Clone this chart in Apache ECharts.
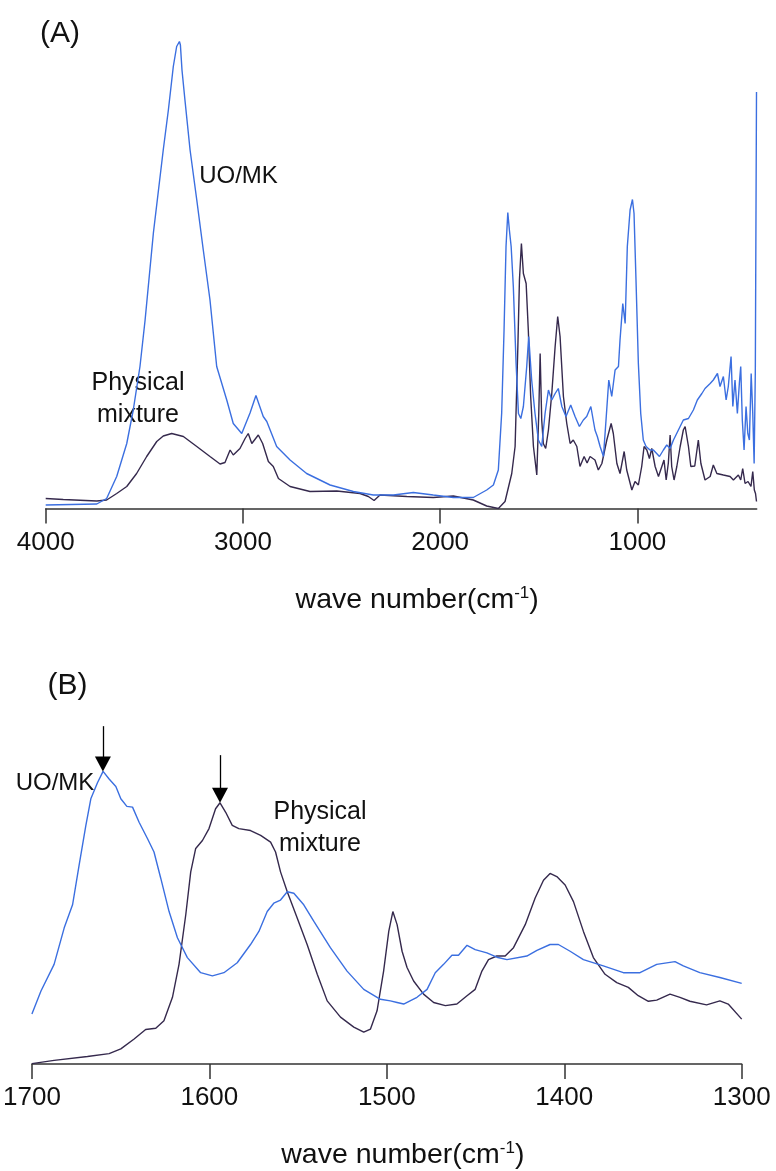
<!DOCTYPE html>
<html>
<head>
<meta charset="utf-8">
<script src="https://cdn.jsdelivr.net/npm/echarts@6/dist/echarts.min.js"></script>
<style>
  html, body { margin: 0; padding: 0; background: #fff; }
  #chart { width: 776px; height: 1171px; }
</style>
</head>
<body>
<div id="chart"></div>
<script>
// FT-IR spectra: UO/MK vs. physical mixture. Pairs are [wave number (cm-1), absorbance (a.u.)].

// (A) full range 4000–400 cm-1
const uoMkFull = [
  [4000,0.7],[3741,0.9],[3691,2.0],[3640,6.4],[3589,13.0],[3556,19.7],[3522,28.4],[3496,37.7],
  [3454,55.1],[3404,71.7],[3378,79.7],[3353,88.4],[3336,92.4],[3322,93.4],[3317,92.7],[3309,87.7],
  [3294,81.7],[3268,71.7],[3234,61.7],[3201,51.7],[3167,41.7],[3133,28.4],[3082,21.7],[3049,17.0],
  [3006,15.0],[2964,19.1],[2934,22.6],[2897,18.4],[2879,17.4],[2829,12.4],[2761,9.7],[2677,7.0],
  [2558,4.7],[2440,3.4],[2339,2.7],[2237,2.7],[2136,3.2],[2035,2.7],[1933,2.2],[1832,2.2],
  [1764,3.7],[1730,4.7],[1705,7.7],[1688,19.1],[1676,35.7],[1666,52.4],[1657,59.2],[1649,55.7],
  [1640,52.4],[1629,44.4],[1615,29.0],[1603,19.0],[1591,18.0],[1578,20.4],[1561,28.4],[1551,34.4],
  [1536,25.7],[1519,19.0],[1502,13.7],[1485,12.4],[1468,19.0],[1451,23.7],[1434,21.7],[1417,23.0],
  [1401,24.0],[1383,20.4],[1362,18.4],[1338,20.7],[1316,18.4],[1294,16.4],[1274,17.7],[1257,18.4],
  [1236,20.4],[1215,15.7],[1203,14.4],[1189,12.4],[1172,10.4],[1159,17.7],[1145,25.7],[1130,22.4],
  [1113,27.7],[1096,28.4],[1088,33.7],[1074,41.0],[1062,37.0],[1051,52.4],[1037,59.7],[1025,61.8],
  [1017,59.0],[1007,45.7],[995,29.0],[983,19.0],[970,13.7],[956,12.4],[936,11.7],[919,11.7],
  [888,10.4],[868,11.7],[851,12.7],[834,12.0],[817,13.7],[792,15.7],[767,17.7],[741,18.0],
  [716,19.7],[696,21.7],[673,23.0],[657,24.0],[631,25.0],[615,25.7],[594,27.0],[581,24.4],
  [564,26.4],[550,21.7],[539,24.4],[525,30.4],[516,20.4],[505,25.7],[493,19.0],[483,25.0],
  [476,28.4],[468,17.7],[459,11.7],[449,20.4],[440,15.0],[432,13.7],[423,27.0],[415,19.0],
  [408,9.0],[402,27.4],[396,83.3]
];
const mixtureFull = [
  [4000,2.0],[3911,1.8],[3741,1.5],[3691,1.7],[3640,3.0],[3589,4.4],[3539,7.0],[3488,10.4],
  [3437,13.4],[3404,14.5],[3361,15.0],[3302,14.4],[3234,12.4],[3167,10.4],[3116,8.9],[3091,9.2],
  [3065,11.7],[3049,10.7],[3015,12.0],[2989,14.0],[2973,15.0],[2955,13.0],[2922,14.7],[2900,13.0],
  [2871,9.4],[2846,8.4],[2820,6.0],[2761,4.4],[2660,3.4],[2524,3.5],[2406,3.0],[2364,2.4],
  [2335,1.6],[2305,2.7],[2169,2.4],[2035,2.2],[1933,2.5],[1832,1.7],[1764,0.5],[1705,0.0],
  [1671,1.4],[1637,7.0],[1620,12.4],[1606,32.4],[1598,45.7],[1588,53.0],[1578,47.0],[1564,45.0],
  [1553,35.7],[1541,22.4],[1527,12.4],[1510,6.7],[1500,19.0],[1493,31.0],[1485,17.7],[1477,13.0],
  [1465,12.0],[1451,15.7],[1434,23.0],[1417,32.4],[1404,38.4],[1392,34.4],[1375,22.4],[1358,17.0],
  [1341,13.0],[1325,13.7],[1307,12.4],[1291,8.4],[1270,10.4],[1255,9.1],[1240,10.4],[1215,9.7],
  [1198,7.7],[1180,9.0],[1155,13.7],[1133,17.0],[1122,15.0],[1104,9.0],[1088,7.0],[1067,11.4],
  [1054,7.7],[1041,5.7],[1028,3.7],[1012,5.4],[995,4.7],[978,8.4],[966,12.4],[952,11.7],
  [939,10.0],[927,12.0],[910,8.4],[893,6.4],[876,8.4],[865,9.7],[854,5.7],[843,9.1],
  [834,14.7],[826,8.4],[814,5.7],[800,8.4],[783,12.4],[767,15.7],[758,16.4],[741,12.4],
  [729,8.4],[709,8.5],[691,13.7],[678,9.0],[657,5.7],[631,6.4],[615,8.7],[597,7.0],
  [564,6.7],[530,6.4],[513,5.7],[488,6.7],[476,5.7],[466,8.0],[454,5.0],[439,5.4],
  [424,4.4],[415,7.4],[407,3.7],[401,3.0],[396,1.4]
];

// (B) carbonyl / aromatic region 1700–1300 cm-1
const uoMkDetail = [
  [1700,12.6],[1694.9,18.4],[1687.5,25.1],[1681.8,34.3],[1677.1,40.1],[1673.4,50.1],[1669.6,60.1],
  [1666.8,66.8],[1663,70.9],[1659.9,73.7],[1656.5,71.8],[1652.7,69.9],[1649.9,66.8],[1646.5,64.9],
  [1643.3,64.7],[1639.6,60.9],[1634.9,56.8],[1631.2,53.4],[1627.4,46.8],[1622.7,38.4],[1618,31.8],
  [1612.4,26.8],[1604.9,23.0],[1598.3,22.2],[1591.8,23.0],[1584.3,25.5],[1576.8,30.1],[1572.1,33.4],
  [1567.4,38.4],[1563.7,40.5],[1559.9,41.3],[1556.1,43.4],[1552.4,43.0],[1546.8,40.1],[1541.1,35.9],
  [1531.8,29.3],[1522.4,23.4],[1513,18.8],[1503.6,16.3],[1498,15.9],[1494.2,15.5],[1490.5,15.1],
  [1483,16.8],[1477.3,18.8],[1472.7,23.0],[1468,25.1],[1463.3,27.4],[1459.6,27.4],[1454.8,29.9],
  [1450.2,28.8],[1443.6,28.0],[1438,26.9],[1432.3,26.3],[1421.1,27.2],[1415.4,28.6],[1408,30.1],
  [1403.3,30.1],[1396.7,28.4],[1389.2,26.3],[1378,24.7],[1366.7,23.0],[1357.3,23.0],[1347.9,25.1],
  [1337.6,25.8],[1332.9,24.7],[1323.6,23.0],[1312.3,21.8],[1300,20.3]
];
const mixtureDetail = [
  [1700,0.1],[1687.5,0.9],[1668.7,1.9],[1656.5,2.6],[1649.9,3.8],[1642.4,6.3],[1635.9,8.7],
  [1630.2,9.0],[1625.6,10.9],[1620.8,16.8],[1617.1,25.1],[1613.3,37.6],[1610.5,48.4],[1607.7,54.3],
  [1603.9,56.3],[1600.2,59.3],[1596.5,64.3],[1594,65.8],[1590.8,63.4],[1587.1,60.1],[1583.4,59.3],
  [1576.8,58.8],[1571.1,57.6],[1565.5,55.9],[1562.7,53.4],[1559.9,48.4],[1556.1,43.4],[1550.5,36.8],
  [1544.9,30.1],[1539.2,22.6],[1533.6,15.9],[1526.1,11.8],[1518.6,9.3],[1513,8.0],[1509.2,8.8],
  [1505.5,13.4],[1501.8,23.4],[1498.9,33.4],[1496.6,38.4],[1494.2,35.1],[1491.4,28.4],[1488.6,24.3],
  [1484.9,20.9],[1479.3,17.6],[1473.6,15.5],[1467,14.7],[1460.5,15.1],[1454.8,17.2],[1450.2,18.8],
  [1446.4,23.4],[1442.7,26.3],[1438,27.2],[1433.3,27.2],[1428.6,29.3],[1422,35.1],[1416.4,41.8],
  [1411.7,46.3],[1408,48.0],[1404.2,47.2],[1399.5,45.1],[1394.8,40.9],[1389.2,33.4],[1383.6,26.8],
  [1377,22.6],[1370.4,20.5],[1363.9,19.3],[1358.3,17.2],[1352.6,15.8],[1347.9,16.1],[1340.4,17.6],
  [1334.8,16.8],[1329.2,15.8],[1319.8,14.9],[1312.3,15.9],[1307.6,15.1],[1300,11.3]
];

// Peak markers in (B): [wave number, arrow tail, arrow tip]
const peakArrowUoMk = [1660, 85.1, 73.7];
const peakArrowMixture = [1594, 77.8, 65.8];

// Tick positions
const ticksFull = [4000, 3000, 2000, 1000];
const ticksDetail = [1700, 1600, 1500, 1400, 1300];

const FONT = '"Liberation Sans", Arial, Helvetica, sans-serif';
const BLUE = '#3b6fe0';
const DARK = '#35294d';
const INK = '#111111';

// Panel (B) draws 4 px per absorbance unit; the arrowhead is 15 px tall
// and centred on the line end, so lift the end by half its height.
const HEAD = 15;
const HEAD_LIFT = (HEAD / 2) / 4;

function xAxisBase(gridIndex) {
  return {
    gridIndex: gridIndex,
    type: 'value',
    inverse: true,
    splitLine: { show: false },
    axisLine: { show: true, onZero: false, lineStyle: { color: '#333', width: 1.5 } },
    axisTick: { show: true, inside: false, length: 15, lineStyle: { color: '#333', width: 1.5 } },
    axisLabel: { show: true, color: INK, fontSize: 26, fontFamily: FONT, margin: 21,
                 showMinLabel: true, showMaxLabel: true, hideOverlap: false,
                 formatter: function (v) { return String(v); } },
    name: '{t|wave number(cm}{s|-1}{t|)}',
    nameLocation: 'middle',
    nameGap: 76,
    nameTextStyle: {
      padding: [0, 0, 0, 32],
      rich: {
        t: { fontSize: 28.5, fontFamily: FONT, color: INK, lineHeight: 31 },
        s: { fontSize: 17, fontFamily: FONT, color: INK, verticalAlign: 'top', lineHeight: 17 }
      }
    }
  };
}

const axisFull = xAxisBase(0);
axisFull.min = 395;
axisFull.max = 4000;
axisFull.axisTick.customValues = ticksFull;
axisFull.axisLabel.customValues = ticksFull;

const axisDetail = xAxisBase(1);
axisDetail.min = 1300;
axisDetail.max = 1700;
axisDetail.interval = 100;
axisDetail.axisTick.customValues = ticksDetail;
axisDetail.axisLabel.customValues = ticksDetail;

function spectrum(name, data, color, axisIdx) {
  return {
    name: name,
    type: 'line',
    xAxisIndex: axisIdx,
    yAxisIndex: axisIdx,
    data: data,
    showSymbol: false,
    symbol: 'none',
    smooth: false,
    lineStyle: { color: color, width: 1.4 },
    itemStyle: { color: color },
    emphasis: { disabled: true },
    silent: true
  };
}

function arrowMark(a) {
  return {
    silent: true,
    animation: false,
    symbol: ['none', 'triangle'],
    symbolSize: [16, HEAD],
    lineStyle: { color: '#000', width: 1.3, type: 'solid' },
    label: { show: false },
    emphasis: { disabled: true },
    data: [[{ coord: [a[0], a[1]] }, { coord: [a[0], a[2] + HEAD_LIFT] }]]
  };
}

const detailUoMk = spectrum('UO/MK', uoMkDetail, BLUE, 1);
detailUoMk.markLine = arrowMark(peakArrowUoMk);
const detailMix = spectrum('Physical mixture', mixtureDetail, DARK, 1);
detailMix.markLine = arrowMark(peakArrowMixture);

function label(text, x, y, size, lh) {
  return {
    type: 'text',
    x: x, y: y,
    silent: true,
    style: {
      text: text,
      fontSize: size,
      fontFamily: FONT,
      fill: INK,
      lineHeight: lh || size,
      align: 'center', verticalAlign: 'middle',
      textAlign: 'center', textVerticalAlign: 'middle'
    }
  };
}

const chart = echarts.init(document.getElementById('chart'), null, { renderer: 'canvas' });
chart.setOption({
  animation: false,
  backgroundColor: '#ffffff',
  grid: [
    { left: 45.7, top: 8.5, width: 711, height: 500 },
    { left: 31, top: 667, width: 710.7, height: 400 }
  ],
  xAxis: [axisFull, axisDetail],
  yAxis: [
    { gridIndex: 0, type: 'value', min: 0, max: 100, show: false },
    { gridIndex: 1, type: 'value', min: 0, max: 100, show: false }
  ],
  series: [
    spectrum('Physical mixture', mixtureFull, DARK, 0),
    spectrum('UO/MK', uoMkFull, BLUE, 0),
    detailMix,
    detailUoMk
  ],
  graphic: [
    label('(A)', 60, 34, 30),
    label('UO/MK', 238.5, 176.7, 24),
    label('Physical\nmixture', 138, 399.5, 25, 32),
    label('(B)', 67.5, 686, 30),
    label('UO/MK', 55, 783.7, 24),
    label('Physical\nmixture', 320, 828, 25, 32)
  ]
});
</script>
</body>
</html>
